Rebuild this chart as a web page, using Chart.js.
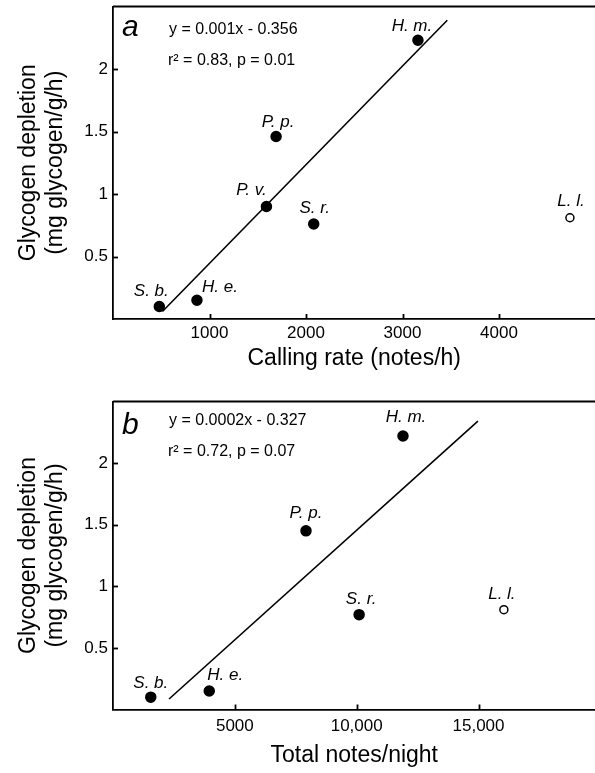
<!DOCTYPE html>
<html lang="en">
<head>
    <meta charset="UTF-8">
    <title>Glycogen depletion vs calling</title>
    <style>
        html, body { margin: 0; padding: 0; background: #fff; }
        .wrap { position: relative; width: 595px; height: 773px; overflow: hidden; }
        canvas { position: absolute; left: 0; }
        #chartA { top: 0; }
        #chartB { top: 395px; }
    </style>
</head>
<body>

<div class="wrap">
    <!-- a little wider than the page: the figure is cut off at the right edge -->
    <canvas id="chartA" width="602" height="385"></canvas>
    <canvas id="chartB" width="602" height="378"></canvas>
</div>

<script src="https://cdn.jsdelivr.net/npm/chart.js@4.4.1/dist/chart.umd.min.js"></script>

<script>
    // panel a: calling rate
    var speciesA = ['S. b.', 'H. e.', 'P. v.', 'P. p.', 'S. r.', 'H. m.', 'L. l.'];
    var callingRate = [480, 870, 1590, 1690, 2080, 3160, 4735];
    var depletionA = [0.10, 0.15, 0.90, 1.46, 0.76, 2.23, 0.81];
    var fitA_x = [512, 3464];
    var fitA_y = [0.06, 2.39];
    var xTicksA = [1000, 2000, 3000, 4000];
    var xTickLabelsA = ['1000', '2000', '3000', '4000'];
    var equationA = ['y = 0.001x - 0.356', 'r\u00b2 = 0.83, p = 0.01'];

    // panel b: total notes per night
    var speciesB = ['S. b.', 'H. e.', 'P. p.', 'S. r.', 'H. m.', 'L. l.'];
    var notesNight = [1550, 3950, 7920, 10100, 11900, 16040];
    var depletionB = [0.10, 0.15, 1.45, 0.77, 2.22, 0.81];
    var fitB_x = [2300, 14975];
    var fitB_y = [0.085, 2.34];
    var xTicksB = [5000, 10000, 15000];
    var xTickLabelsB = ['5000', '10,000', '15,000'];
    var equationB = ['y = 0.0002x - 0.327', 'r\u00b2 = 0.72, p = 0.07'];

    var yTicks = [0.5, 1, 1.5, 2];
    var yTickLabels = ['0.5', '1', '1.5', '2'];
    var openSpecies = 'L. l.'; // drawn as open circle (not in the fit)

    var FONT = '"Liberation Sans", Arial, Helvetica, sans-serif';

    // label placement around each dot: [dx of label centre, dy of baseline]
    var labelOffA = [[-8, -11], [23, -8], [-15, -12], [2, -10], [1, -11], [-6, -9], [1, -12]];
    var labelOffB = [[0, -9], [16, -11], [0, -13], [2, -11], [3, -14], [-2, -11]];

    // inward tick marks, top frame line, species labels and the fit text
    var decorate = {
        id: 'decorate',
        afterDraw: function(chart, args, opts) {
            var ctx = chart.ctx;
            var area = chart.chartArea;
            var xs = chart.scales.x, ys = chart.scales.y;
            ctx.save();
            ctx.strokeStyle = '#000';
            ctx.lineWidth = 1.8;

            ctx.beginPath();
            ctx.moveTo(area.left, area.top);
            ctx.lineTo(area.right, area.top);
            ctx.stroke();

            xs.ticks.forEach(function(t) {
                var px = Math.round(xs.getPixelForValue(t.value)) + 0.5;
                ctx.beginPath();
                ctx.moveTo(px, area.bottom);
                ctx.lineTo(px, area.bottom - 5);
                ctx.stroke();
            });
            ys.ticks.forEach(function(t) {
                var py = Math.round(ys.getPixelForValue(t.value)) + 0.5;
                ctx.beginPath();
                ctx.moveTo(area.left, py);
                ctx.lineTo(area.left + 5, py);
                ctx.stroke();
            });

            ctx.fillStyle = '#000';
            ctx.textBaseline = 'alphabetic';

            var pts = chart.getDatasetMeta(0).data;
            ctx.font = 'italic 17px ' + FONT;
            ctx.textAlign = 'center';
            opts.names.forEach(function(name, i) {
                var off = opts.offsets[i];
                ctx.fillText(name, pts[i].x + off[0], pts[i].y + off[1]);
            });

            ctx.font = 'italic 30px ' + FONT;
            ctx.textAlign = 'left';
            ctx.fillText(opts.letter, area.left + 9, area.top + opts.letterY);

            ctx.font = '16px ' + FONT;
            ctx.fillText(opts.equation[0], area.left + 56, area.top + opts.eqY[0]);
            ctx.fillText(opts.equation[1], area.left + 55, area.top + opts.eqY[1]);
            ctx.restore();
        }
    };

    function makePanel(id, p) {
        var ctx = document.getElementById(id).getContext('2d');
        var pts = p.xs.map(function(x, i) { return { x: x, y: p.ys[i] }; });
        var fit = p.fitX.map(function(x, i) { return { x: x, y: p.fitY[i] }; });

        return new Chart(ctx, {
            type: 'scatter',
            data: {
                datasets: [
                    {
                        data: pts,
                        order: 0,
                        pointRadius: function(c) { return p.names[c.dataIndex] === openSpecies ? 4 : 5; },
                        pointBackgroundColor: function(c) { return p.names[c.dataIndex] === openSpecies ? '#fff' : '#000'; },
                        pointBorderColor: '#000',
                        pointBorderWidth: 1.5
                    },
                    {
                        type: 'line',
                        data: fit,
                        order: 1,
                        borderColor: '#000',
                        borderWidth: 1.6,
                        pointRadius: 0,
                        fill: false
                    }
                ]
            },
            options: {
                responsive: false,
                animation: false,
                devicePixelRatio: 1,
                layout: { padding: { top: 5, right: 0, left: 0, bottom: 0 } },
                plugins: {
                    legend: { display: false },
                    tooltip: { enabled: false },
                    decorate: {
                        names: p.names,
                        offsets: p.offsets,
                        letter: p.letter,
                        letterY: p.letterY,
                        equation: p.equation,
                        eqY: p.eqY
                    }
                },
                scales: {
                    x: {
                        type: 'linear',
                        min: 0,
                        max: p.xMax,
                        grid: { display: false, drawTicks: false },
                        border: { display: true, color: '#000', width: 1.8 },
                        afterBuildTicks: function(axis) {
                            axis.ticks = p.xTicks.map(function(v) { return { value: v }; });
                        },
                        afterFit: function(scale) {
                            scale.height = p.xAxisHeight;
                            scale.paddingLeft = 0;
                            scale.paddingRight = 0;
                        },
                        ticks: {
                            color: '#000',
                            padding: p.xTickPad,
                            maxRotation: 0,
                            font: { family: FONT, size: 17 },
                            callback: function(v, i) { return p.xLabels[i]; }
                        },
                        title: {
                            display: true,
                            text: p.xTitle,
                            color: '#000',
                            font: { family: FONT, size: 23 },
                            padding: { top: 0, bottom: p.xTitlePad }
                        }
                    },
                    y: {
                        type: 'linear',
                        min: 0,
                        max: 2.5,
                        grid: { display: false, drawTicks: false },
                        border: { display: true, color: '#000', width: 1.8 },
                        afterBuildTicks: function(axis) {
                            axis.ticks = yTicks.map(function(v) { return { value: v }; });
                        },
                        afterFit: function(scale) {
                            scale.width = 113;
                            scale.paddingTop = 0;
                            scale.paddingBottom = 0;
                        },
                        ticks: {
                            color: '#000',
                            padding: 5,
                            font: { family: FONT, size: 17 },
                            callback: function(v, i) { return yTickLabels[i]; }
                        },
                        title: {
                            display: true,
                            text: ['Glycogen depletion', '(mg glycogen/g/h)'],
                            color: '#000',
                            font: { family: FONT, size: 23 },
                            padding: { top: 14.5, bottom: 0 }
                        }
                    }
                }
            },
            plugins: [decorate]
        });
    }

    makePanel('chartA', {
        names: speciesA, xs: callingRate, ys: depletionA,
        fitX: fitA_x, fitY: fitA_y,
        xMax: 5000, xTicks: xTicksA, xLabels: xTickLabelsA,
        xTitle: 'Calling rate (notes/h)',
        xAxisHeight: 66, xTickPad: 4, xTitlePad: 13,
        offsets: labelOffA, letter: 'a', letterY: 29,
        equation: equationA, eqY: [27, 58]
    });

    makePanel('chartB', {
        names: speciesB, xs: notesNight, ys: depletionB,
        fitX: fitB_x, fitY: fitB_y,
        xMax: 19800, xTicks: xTicksB, xLabels: xTickLabelsB,
        xTitle: 'Total notes/night',
        xAxisHeight: 63.5, xTickPad: 7, xTitlePad: 4,
        offsets: labelOffB, letter: 'b', letterY: 32,
        equation: equationB, eqY: [23, 54]
    });
</script>

</body>
</html>
